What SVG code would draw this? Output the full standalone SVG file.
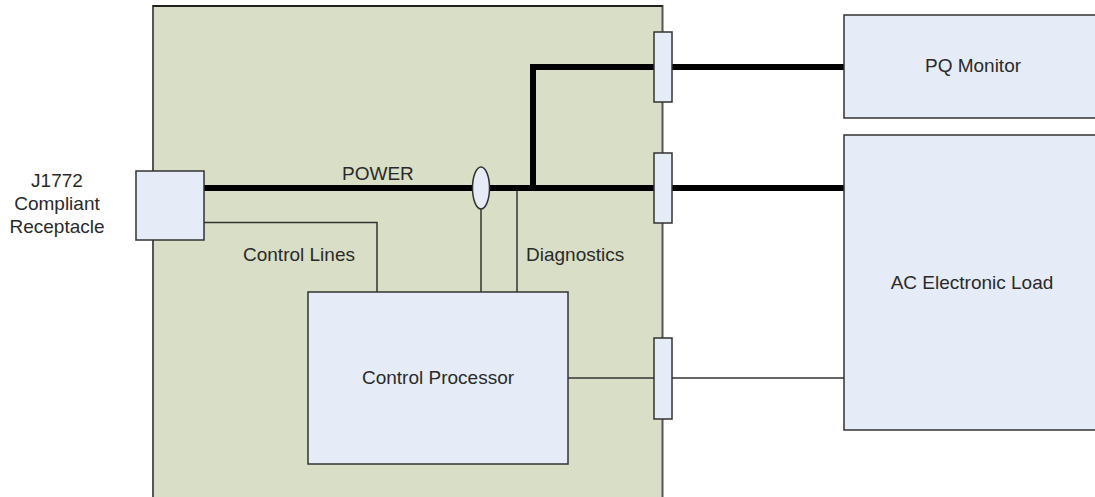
<svg xmlns="http://www.w3.org/2000/svg" width="1095" height="497" viewBox="0 0 1095 497">
<style>
  .box { fill: #E5ECF7; stroke: #333; stroke-width: 1.5; }
  .lbl { font-family: "Liberation Sans", Arial, sans-serif; font-size: 19px; fill: #2a2a2a; }
  .mid { text-anchor: middle; }
  .thick { stroke: #000; stroke-width: 6; fill: none; stroke-linejoin: miter; }
  .thin { stroke: #333; stroke-width: 1.5; fill: none; }
</style>
<rect width="1095" height="497" fill="#FFFFFF"/>
<g id="enclosure">
  <rect x="153" y="6" width="509.5" height="500" fill="#D9DEC6" stroke="#555" stroke-width="2"/>
  <line x1="153" y1="6" x2="662.5" y2="6" stroke="#111" stroke-width="1.5"/>
</g>
<g id="connectors">
  <path class="thick" d="M204 188 H654"/>
  <path class="thick" d="M533 188 V67 H654"/>
  <path class="thick" d="M672 67 H844"/>
  <path class="thick" d="M672 188 H844"/>
  <path class="thin" d="M204 222.5 H377 V292"/>
  <path class="thin" d="M481 209 V292"/>
  <path class="thin" d="M517 191 V292"/>
  <path class="thin" d="M568 378 H654"/>
  <path class="thin" d="M672 378 H844"/>
</g>
<g id="label-power"><text class="lbl" x="342" y="180">POWER</text></g>
<g id="label-control-lines"><text class="lbl" x="243" y="261">Control Lines</text></g>
<g id="label-diagnostics"><text class="lbl" x="526" y="261">Diagnostics</text></g>
<g id="receptacle-label">
  <text class="lbl mid" x="57" y="187">J1772</text>
  <text class="lbl mid" x="57" y="210">Compliant</text>
  <text class="lbl mid" x="57" y="233">Receptacle</text>
</g>
<g id="receptacle"><rect class="box" x="136" y="171" width="68" height="69"/></g>
<g id="sensor"><ellipse class="box" cx="481" cy="188" rx="8.5" ry="21"/></g>
<g id="port1"><rect class="box" x="654" y="32" width="18" height="70"/></g>
<g id="port2"><rect class="box" x="654" y="153" width="18" height="70"/></g>
<g id="port3"><rect class="box" x="654" y="338" width="18" height="81"/></g>
<g id="control-processor">
  <rect class="box" x="308" y="292" width="260" height="172"/>
  <text class="lbl mid" x="438" y="384">Control Processor</text>
</g>
<g id="pq-monitor">
  <rect class="box" x="844" y="15" width="260" height="103"/>
  <text class="lbl mid" x="973" y="72">PQ Monitor</text>
</g>
<g id="ac-load">
  <rect class="box" x="844" y="135" width="260" height="295"/>
  <text class="lbl mid" x="972" y="289">AC Electronic Load</text>
</g>
</svg>
